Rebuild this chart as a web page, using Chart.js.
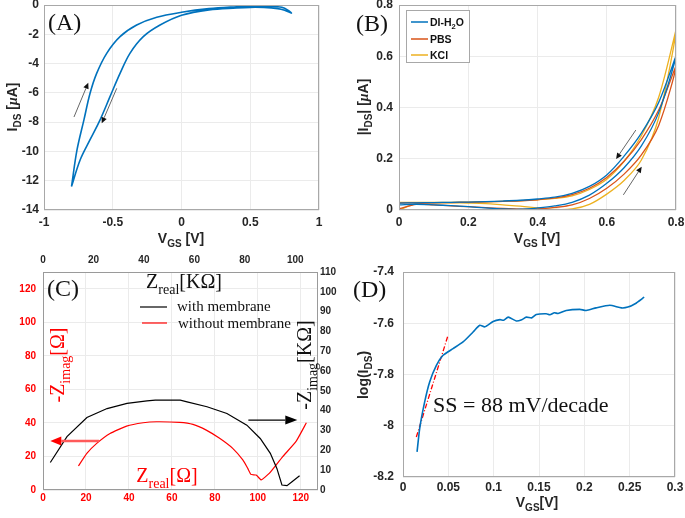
<!DOCTYPE html>
<html>
<head>
<meta charset="utf-8">
<script src="https://cdn.jsdelivr.net/npm/chart.js@4.4.0/dist/chart.umd.min.js"></script>
<style>
    body { margin: 0; background: #fff; }
    #wrap { position: relative; width: 685px; height: 518px; }
    canvas { position: absolute; }
</style>
</head>
<body>
<div id="wrap">
    <canvas id="chA" width="342" height="256" style="left:0;top:0"></canvas>
    <canvas id="chB" width="343" height="256" style="left:342px;top:0"></canvas>
    <canvas id="chC" width="342" height="270" style="left:0;top:248px"></canvas>
    <canvas id="chD" width="343" height="270" style="left:342px;top:248px"></canvas>
</div>
<script>
// (A) transfer curve, forward sweep then return sweep
const vgsA = [-0.8, -0.76, -0.71, -0.665, -0.617, -0.544, -0.447, -0.326, -0.18, 0, 0.2, 0.4, 0.5, 0.6, 0.7, 0.75, 0.8,
    0.75, 0.7, 0.6, 0.5, 0.4, 0.2, 0, -0.156, -0.278, -0.375, -0.447, -0.52, -0.593, -0.665, -0.738, -0.8];
const idsA = [-12.4, -9.9, -7.86, -6.03, -4.67, -3.3, -2.16, -1.37, -0.84, -0.5, -0.25, -0.12, -0.08, -0.08, -0.12, -0.22, -0.55,
    -0.36, -0.25, -0.17, -0.16, -0.2, -0.33, -0.7, -1.37, -2.16, -3.3, -4.67, -6.26, -7.86, -9.2, -10.6, -12.4];

// (B) |IDS| in three solutions
const vgsB = [0, 0.05, 0.1, 0.15, 0.2, 0.25, 0.3, 0.35, 0.4, 0.45, 0.5, 0.55, 0.6, 0.65, 0.7, 0.75, 0.8,
    0.75, 0.7, 0.65, 0.6, 0.55, 0.5, 0.45, 0.4, 0.35, 0.3, 0.25, 0.2, 0.15, 0.1, 0.05, 0];
const idsDI = [0.02, 0.022, 0.02, 0.017, 0.013, 0.008, 0.004, 0.003, 0.008, 0.016, 0.03, 0.058, 0.104, 0.165, 0.25, 0.38, 0.6,
    0.42, 0.3, 0.21, 0.137, 0.092, 0.065, 0.05, 0.043, 0.038, 0.035, 0.033, 0.031, 0.03, 0.029, 0.028, 0.027];
const idsPBS = [0.005, 0.022, 0.02, 0.016, 0.013, 0.009, 0.006, 0.003, 0.004, 0.01, 0.02, 0.045, 0.085, 0.14, 0.215, 0.33, 0.56,
    0.39, 0.275, 0.19, 0.127, 0.085, 0.06, 0.047, 0.04, 0.036, 0.034, 0.032, 0.03, 0.029, 0.028, 0.028, 0.027];
const idsKCl = [0, 0.025, 0.028, 0.028, 0.027, 0.025, 0.02, 0.015, 0.008, 0.002, 0.004, 0.022, 0.062, 0.115, 0.195, 0.36, 0.7,
    0.44, 0.29, 0.19, 0.12, 0.08, 0.055, 0.045, 0.04, 0.036, 0.034, 0.032, 0.031, 0.03, 0.03, 0.03, 0.03];
const labelsB = ['DI-H2O', 'PBS', 'KCl'];

// (C) Nyquist plot
const zrealMem = [2.9, 9.5, 17.4, 25.4, 33.3, 41.2, 44.5, 54.4, 57.1, 65.0, 72.9, 80.8, 86.1, 90.1, 92.7, 94.7, 96.7, 98.7, 101.7];
const zimagMem = [13.9, 26.9, 36.6, 41.1, 43.7, 45.0, 45.3, 45.3, 44.5, 42.0, 38.6, 32.7, 26.0, 18.5, 10.9, 2.5, 2.2, 4.2, 7.2];
const zrealNo = [16.5, 20.4, 25.0, 31.2, 38.9, 46.6, 52.8, 63.6, 69.8, 76.0, 82.2, 88.3, 93.0, 95.3, 96.8, 99.2, 101.5, 102.2, 105.3, 111.5, 117.7, 122.6];
const zimagNo = [14.3, 21.8, 27.8, 33.7, 38.1, 40.1, 40.7, 40.3, 39.1, 35.7, 30.8, 24.8, 17.9, 12.9, 9.3, 8.9, 6.0, 6.5, 9.9, 19.8, 28.8, 40.1];

// (D) subthreshold swing
const vgsD = [0.0155, 0.0184, 0.0239, 0.0294, 0.0368, 0.0442, 0.0552, 0.0662, 0.0773, 0.0847, 0.0902, 0.0994, 0.107, 0.111, 0.116, 0.125, 0.131,
    0.136, 0.142, 0.147, 0.158, 0.162, 0.167, 0.171, 0.18, 0.195, 0.202, 0.213, 0.228, 0.241, 0.248, 0.256, 0.266];
const logD = [-8.102, -8.011, -7.907, -7.829, -7.764, -7.725, -7.699, -7.673, -7.634, -7.608, -7.614, -7.593, -7.586, -7.588, -7.576, -7.591, -7.586,
    -7.576, -7.579, -7.566, -7.563, -7.567, -7.559, -7.562, -7.55, -7.546, -7.55, -7.54, -7.53, -7.54, -7.537, -7.524, -7.498];
const vgsFit = [0.0147, 0.0497];
const logFit = [-8.044, -7.647];

const SANS = '"Liberation Sans", Arial, sans-serif';
const SERIF = '"Liberation Serif", "Times New Roman", serif';
const TICK = { family: SANS, size: 12, weight: 'bold' };
const TICK_C = { family: SANS, size: 10, weight: 'bold' };
const GRID = '#ebebeb';
const INK = '#262626';
const RED = '#ff0000';

const pts = (xs, ys) => xs.map((x, i) => ({ x, y: ys[i] }));
const plain = (v) => String(parseFloat(v.toFixed(4)));

function fixW(w) {
    return (s) => { s.width = w; s.paddingTop = 0; s.paddingBottom = 0; };
}
function fixH(h) {
    return (s) => { s.height = h; s.paddingLeft = 0; s.paddingRight = 0; };
}

function axis(min, max, step, o) {
    return {
        type: 'linear', min, max, position: o.position,
        afterFit: o.w !== undefined ? fixW(o.w) : fixH(o.h),
        grid: { display: o.grid !== false, color: GRID, drawTicks: false },
        border: { display: false },
        ticks: {
            stepSize: step, padding: o.pad, color: o.color || INK, font: o.font || TICK,
            includeBounds: false, maxRotation: 0, autoSkip: false, callback: plain,
        },
    };
}

// text with subscripts / italics drawn on the canvas
function rich(ctx, parts, x, y, o) {
    const fontOf = (k) => {
        const size = k === 'sub' ? o.sub : o.size;
        const it = k === 'it' ? 'italic ' : '';
        const fam = k === 'it' ? SERIF : o.family;
        return `${it}${o.weight || 'normal'} ${size}px ${fam}`;
    };
    let w = 0;
    const ws = parts.map(([t, k]) => {
        ctx.font = fontOf(k);
        const m = ctx.measureText(t).width;
        w += m;
        return m;
    });
    ctx.save();
    ctx.translate(x, y);
    if (o.rotate) ctx.rotate(-Math.PI / 2);
    ctx.fillStyle = o.color || INK;
    ctx.textBaseline = 'alphabetic';
    let cx = o.align === 'left' ? 0 : -w / 2;
    const base = o.size * 0.36;
    parts.forEach(([t, k], i) => {
        ctx.font = fontOf(k);
        ctx.fillText(t, cx, k === 'sub' ? base + o.size * 0.28 : base);
        cx += ws[i];
    });
    ctx.restore();
}

function arrow(ctx, x1, y1, x2, y2, o) {
    const a = Math.atan2(y2 - y1, x2 - x1);
    const bx = x2 - o.head * Math.cos(a);
    const by = y2 - o.head * Math.sin(a);
    ctx.save();
    ctx.strokeStyle = o.line;
    ctx.lineWidth = o.width;
    ctx.beginPath();
    ctx.moveTo(x1, y1);
    ctx.lineTo(bx, by);
    ctx.stroke();
    ctx.fillStyle = o.fill;
    ctx.beginPath();
    ctx.moveTo(x2, y2);
    ctx.lineTo(bx + o.headW * Math.sin(a), by - o.headW * Math.cos(a));
    ctx.lineTo(bx - o.headW * Math.sin(a), by + o.headW * Math.cos(a));
    ctx.closePath();
    ctx.fill();
    ctx.restore();
}

// arrow given in data units of the chosen axes
function arrowData(c, xId, yId, p1, p2, o) {
    const sx = c.scales[xId], sy = c.scales[yId];
    arrow(c.ctx, sx.getPixelForValue(p1[0]), sy.getPixelForValue(p1[1]),
        sx.getPixelForValue(p2[0]), sy.getPixelForValue(p2[1]), o);
}

function boxPlugin(color) {
    return {
        id: 'box',
        afterDatasetsDraw(c) {
            const a = c.chartArea;
            const ctx = c.ctx;
            ctx.save();
            ctx.strokeStyle = color;
            ctx.lineWidth = 1;
            ctx.strokeRect(a.left + 0.5, a.top + 0.5, a.right - a.left - 1, a.bottom - a.top - 1);
            ctx.restore();
        },
    };
}

const AXIS_T = { family: SANS, size: 14, sub: 10, weight: 'bold' };
const GRAY_ARROW = { line: '#666', fill: '#111', width: 1, head: 6, headW: 2.8 };

const common = {
    responsive: false,
    animation: false,
    plugins: { legend: { display: false }, tooltip: { enabled: false } },
    elements: { point: { radius: 0 } },
};

// ---------- (A)
new Chart(document.getElementById('chA'), {
    type: 'scatter',
    data: {
        datasets: [{
            data: pts(vgsA, idsA), showLine: true, borderColor: '#0072BD', borderWidth: 1.6, tension: 0.35,
        }],
    },
    options: {
        ...common,
        layout: { padding: { top: 5, right: 23, left: 0, bottom: 0 } },
        scales: {
            x: axis(-1, 1, 0.5, { position: 'bottom', h: 46, pad: 5 }),
            y: axis(-14, 0, 2, { position: 'left', w: 44, pad: 5 }),
        },
    },
    plugins: [boxPlugin('#a8a8a8'), {
        id: 'extrasA',
        afterDraw(c) {
            const ctx = c.ctx;
            rich(ctx, [['V'], ['GS', 'sub'], [' [V]']], 181, 238, AXIS_T);
            rich(ctx, [['I'], ['DS', 'sub'], [' ['], ['μ', 'it'], ['A]']], 12, 107, { ...AXIS_T, rotate: true });
            rich(ctx, [['(A)']], 48, 21, { family: SERIF, size: 24, align: 'left', color: '#111' });
            arrowData(c, 'x', 'y', [-0.782, -7.65], [-0.678, -5.31], GRAY_ARROW);
            arrowData(c, 'x', 'y', [-0.471, -5.69], [-0.58, -8.08], GRAY_ARROW);
        },
    }],
});

// ---------- (B)
const colorsB = ['#0072BD', '#D95319', '#EDB120'];
new Chart(document.getElementById('chB'), {
    type: 'scatter',
    data: {
        datasets: [idsDI, idsPBS, idsKCl].map((ys, i) => ({
            label: labelsB[i], data: pts(vgsB, ys), showLine: true,
            borderColor: colorsB[i], borderWidth: 1.3, tension: 0.35,
        })),
    },
    options: {
        ...common,
        layout: { padding: { top: 5, right: 9, left: 0, bottom: 0 } },
        scales: {
            x: axis(0, 0.8, 0.2, { position: 'bottom', h: 46, pad: 5 }),
            y: axis(0, 0.8, 0.2, { position: 'left', w: 57, pad: 6 }),
        },
    },
    plugins: [boxPlugin('#a8a8a8'), {
        id: 'extrasB',
        afterDraw(c) {
            const ctx = c.ctx;
            rich(ctx, [['V'], ['GS', 'sub'], [' [V]']], 195, 238, AXIS_T);
            rich(ctx, [['|I'], ['DS', 'sub'], ['| ['], ['μ', 'it'], ['A]']], 21, 107, { ...AXIS_T, rotate: true });
            rich(ctx, [['(B)']], 14, 22, { family: SERIF, size: 24, align: 'left', color: '#111' });
            arrowData(c, 'x', 'y', [0.684, 0.312], [0.627, 0.199], GRAY_ARROW);
            arrowData(c, 'x', 'y', [0.648, 0.059], [0.701, 0.169], GRAY_ARROW);
            // legend box
            ctx.save();
            ctx.fillStyle = '#fff';
            ctx.strokeStyle = '#a8a8a8';
            ctx.lineWidth = 1;
            ctx.fillRect(64.5, 10.5, 63, 52);
            ctx.strokeRect(64.5, 10.5, 63, 52);
            const rows = [22, 39, 55];
            const lf = { family: SANS, size: 10.5, sub: 7.5, weight: 'bold', align: 'left', color: '#111' };
            const texts = [[['DI-H'], ['2', 'sub'], ['O']], [['PBS']], [['KCl']]];
            rows.forEach((yy, i) => {
                ctx.strokeStyle = colorsB[i];
                ctx.lineWidth = 1.5;
                ctx.beginPath();
                ctx.moveTo(69, yy);
                ctx.lineTo(86, yy);
                ctx.stroke();
                rich(ctx, texts[i], 88, yy, lf);
            });
            ctx.restore();
        },
    }],
});

// ---------- (C)
new Chart(document.getElementById('chC'), {
    type: 'scatter',
    data: {
        datasets: [
            { data: pts(zrealMem, zimagMem), xAxisID: 'x2', yAxisID: 'y2', showLine: true, borderColor: '#000', borderWidth: 1.2, tension: 0 },
            { data: pts(zrealNo, zimagNo), xAxisID: 'x', yAxisID: 'y', showLine: true, borderColor: RED, borderWidth: 1.2, tension: 0.15 },
        ],
    },
    options: {
        ...common,
        layout: { padding: 0 },
        scales: {
            x: axis(0, 128, 20, { position: 'bottom', h: 28, pad: 2, color: RED, font: TICK_C }),
            y: axis(0, 130, 20, { position: 'left', w: 43, pad: 7, color: RED, font: TICK_C }),
            x2: axis(0, 109, 20, { position: 'top', h: 24, pad: 6, font: TICK_C, grid: false }),
            y2: axis(0, 110, 10, { position: 'right', w: 24, pad: 2, font: TICK_C, grid: false }),
        },
    },
    plugins: [boxPlugin('#9a9a9a'), {
        id: 'extrasC',
        afterDraw(c) {
            const ctx = c.ctx;
            const ser = { family: SERIF, size: 20, sub: 14, color: '#111' };
            rich(ctx, [['Z'], ['real', 'sub'], ['[KΩ]']], 184, 33, ser);
            rich(ctx, [['Z'], ['real', 'sub'], ['[Ω]']], 167, 227, { ...ser, color: RED });
            rich(ctx, [['-Z'], ['imag', 'sub'], ['[Ω]']], 57, 117, { ...ser, color: RED, rotate: true });
            rich(ctx, [['-Z'], ['imag', 'sub'], ['[KΩ]']], 304, 117, { ...ser, rotate: true });
            rich(ctx, [['(C)']], 47, 39, { family: SERIF, size: 24, align: 'left', color: '#111' });
            // legend
            ctx.save();
            ctx.lineWidth = 1.2;
            ctx.strokeStyle = '#000';
            ctx.beginPath(); ctx.moveTo(140, 59); ctx.lineTo(167, 59); ctx.stroke();
            ctx.strokeStyle = RED;
            ctx.beginPath(); ctx.moveTo(142, 75); ctx.lineTo(167, 75); ctx.stroke();
            ctx.restore();
            const lf = { family: SERIF, size: 15, align: 'left', color: '#111' };
            rich(ctx, [['with membrane']], 177, 58, lf);
            rich(ctx, [['without membrane']], 178, 75, lf);
            arrowData(c, 'x2', 'y2', [81.4, 35.3], [100.8, 35.3], { line: '#000', fill: '#000', width: 1.3, head: 12, headW: 4.5 });
            arrowData(c, 'x', 'y', [26.1, 29.2], [3.4, 29.2], { line: '#ff5a5a', fill: RED, width: 2.5, head: 11, headW: 4.5 });
        },
    }],
});

// ---------- (D)
new Chart(document.getElementById('chD'), {
    type: 'scatter',
    data: {
        datasets: [
            { data: pts(vgsD, logD), showLine: true, borderColor: '#0072BD', borderWidth: 1.6, tension: 0.2 },
            { data: pts(vgsFit, logFit), showLine: true, borderColor: RED, borderWidth: 1.3, borderDash: [5, 2, 1, 2] },
        ],
    },
    options: {
        ...common,
        layout: { padding: { top: 24, right: 10, left: 0, bottom: 0 } },
        scales: {
            x: axis(0, 0.3, 0.05, { position: 'bottom', h: 41, pad: 3 }),
            y: axis(-8.2, -7.4, 0.2, { position: 'left', w: 61, pad: 9 }),
        },
    },
    plugins: [boxPlugin('#a8a8a8'), {
        id: 'extrasD',
        afterDraw(c) {
            const ctx = c.ctx;
            rich(ctx, [['V'], ['GS', 'sub'], ['[V]']], 195, 254, AXIS_T);
            rich(ctx, [['log(I'], ['DS', 'sub'], [')']], 21, 127, { ...AXIS_T, rotate: true });
            rich(ctx, [['(D)']], 11, 40, { family: SERIF, size: 24, align: 'left', color: '#111' });
            rich(ctx, [['SS = 88 mV/decade']], 91, 156, { family: SERIF, size: 22, align: 'left', color: '#111' });
        },
    }],
});
</script>
</body>
</html>
